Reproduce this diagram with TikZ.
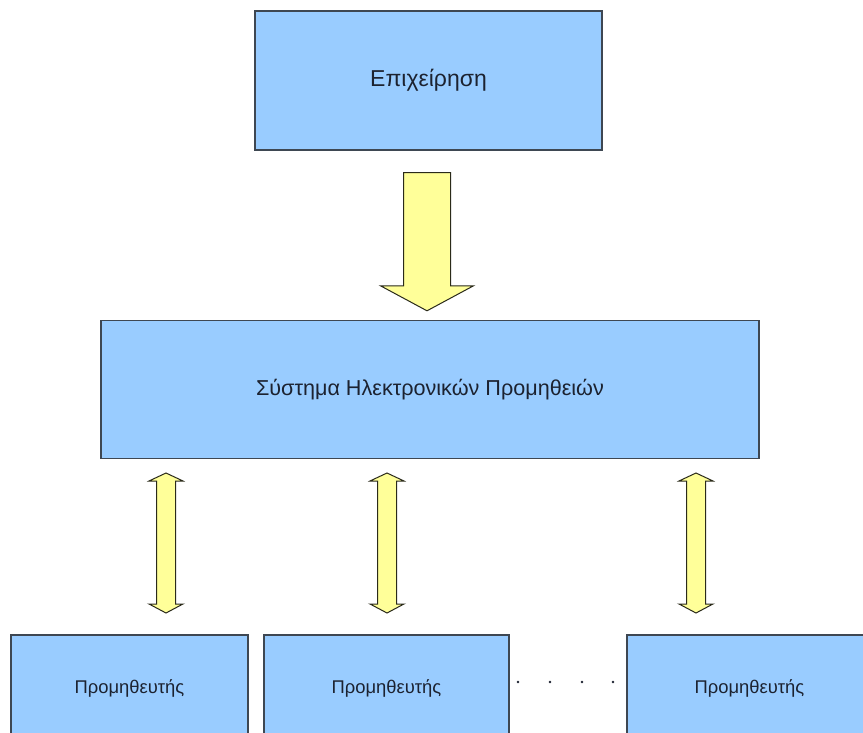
\documentclass[tikz,border=0pt]{standalone}
\usepackage{fontspec}
\setmainfont{Liberation Sans}
\usetikzlibrary{calc}

\definecolor{boxfill}{HTML}{99CCFF}
\definecolor{boxline}{HTML}{3E4752}
\definecolor{arrowfill}{HTML}{FFFF99}
\definecolor{arrowline}{HTML}{2A2A1A}
\definecolor{textcol}{HTML}{1C2230}

\tikzset{
  box/.style={draw=boxline, fill=boxfill, line width=1.4pt, text=textcol,
    inner sep=0pt, align=center},
  supplier/.style={box, minimum height=106pt, font=\fontsize{18.4}{22}\selectfont},
  blockarrow/.style={draw=arrowline, fill=arrowfill, line width=1pt,
    line join=miter},
}

% vertical two-headed block arrow between a top tip #1 and a bottom tip #2
\newcommand{\twowayarrow}[2]{%
  \draw[blockarrow] let \p1=(#1), \p2=(#2) in
    (\x1,\y1) -- (\x1+17pt,\y1-8pt) -- (\x1+9.5pt,\y1-8pt)
    -- (\x1+9.5pt,\y2+9pt) -- (\x1+17pt,\y2+9pt) -- (\x1,\y2)
    -- (\x1-17pt,\y2+9pt) -- (\x1-9.5pt,\y2+9pt)
    -- (\x1-9.5pt,\y1-8pt) -- (\x1-17pt,\y1-8pt) -- cycle;}

\begin{document}
\begin{tikzpicture}[x=1pt,y=-1pt]
  \useasboundingbox (0,0) rectangle (863,733);
  \clip (0,0) rectangle (863,733);
  \fill[white] (0,0) rectangle (863,733);

  % company
  \node[box, minimum width=347pt, minimum height=139pt,
        font=\fontsize{23}{27}\selectfont] (firm) at (428.5,80.5) {Επιχείρηση};

  % e-procurement system
  \node[box, minimum width=658pt, minimum height=138pt,
        font=\fontsize{21.6}{26}\selectfont] (sys) at (430,389.5)
        {Σύστημα Ηλεκτρονικών Προμηθειών};

  % suppliers
  \node[supplier, minimum width=237pt] (sup1) at (129.5,688) {Προμηθευτής};
  \node[supplier, minimum width=245pt] (sup2) at (386.5,688) {Προμηθευτής};
  \node[supplier, minimum width=245pt] (sup3) at (749.5,688) {Προμηθευτής};

  % ellipsis between the second and the last supplier
  \foreach \x in {518,550,582,613}
    \fill[textcol] (\x,682) circle (1.4pt);

  % one-way arrow from the company to the system
  \draw[blockarrow] let \p1=($(firm.south)+(-1.5,22)$), \p2=($(sys.north)+(-3,-9)$) in
    (\x1-23.5pt,\y1) -- (\x1+23.5pt,\y1) -- (\x1+23.5pt,\y2+25pt)
    -- (\x1+46.5pt,\y2+25pt) -- (\x1,\y2) -- (\x1-46.5pt,\y2+25pt)
    -- (\x1-23.5pt,\y2+25pt) -- cycle;

  % two-way arrows between the system and each supplier
  \coordinate (a1t) at (166,473);  \coordinate (a1b) at (166,613);
  \coordinate (a2t) at (387,473);  \coordinate (a2b) at (387,613);
  \coordinate (a3t) at (696,473);  \coordinate (a3b) at (696,613);
  \twowayarrow{a1t}{a1b}
  \twowayarrow{a2t}{a2b}
  \twowayarrow{a3t}{a3b}
\end{tikzpicture}
\end{document}
